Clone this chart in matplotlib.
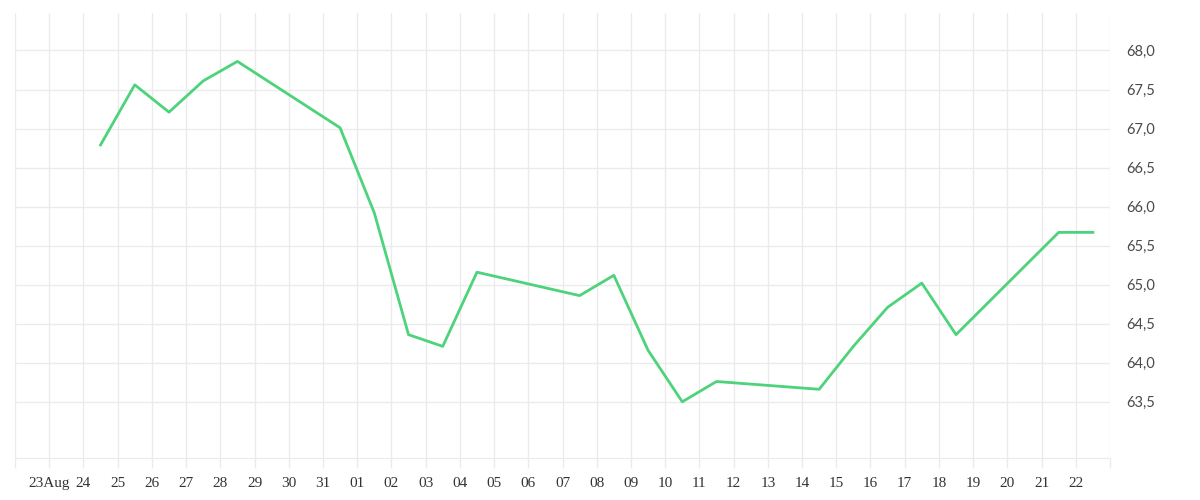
import matplotlib
matplotlib.use("Agg")
import matplotlib.pyplot as plt
import pandas as pd

# readings (taken at midday)
dates = ['2023-08-24 12:00', '2023-08-25 12:00', '2023-08-26 12:00', '2023-08-27 12:00',
         '2023-08-28 12:00', '2023-08-31 12:00', '2023-09-01 12:00', '2023-09-02 12:00',
         '2023-09-03 12:00', '2023-09-04 12:00', '2023-09-07 12:00', '2023-09-08 12:00',
         '2023-09-09 12:00', '2023-09-10 12:00', '2023-09-11 12:00', '2023-09-14 12:00',
         '2023-09-15 12:00', '2023-09-16 12:00', '2023-09-17 12:00', '2023-09-18 12:00',
         '2023-09-21 12:00', '2023-09-22 12:00']
values = [66.79, 67.56, 67.21, 67.61, 67.86, 67.01, 65.92, 64.36, 64.21, 65.16, 64.86,
          65.12, 64.16, 63.50, 63.76, 63.66, 64.21, 64.71, 65.02, 64.36, 65.67, 65.67]

x_start = '2023-08-22'
x_end = '2023-09-23'
y_ticks = [63.5, 64.0, 64.5, 65.0, 65.5, 66.0, 66.5, 67.0, 67.5, 68.0]

x = pd.to_datetime(dates)
day_ticks = pd.date_range(x_start, x_end, freq='D')
day_labels = []
for i, d in enumerate(day_ticks):
    if i == 0 or i == len(day_ticks) - 1:
        day_labels.append('')
    elif i == 1:
        day_labels.append(d.strftime('%d%b'))
    else:
        day_labels.append(d.strftime('%d'))

grid_col = '#ebebeb'

fig = plt.figure(figsize=(12, 5), dpi=100)
ax = fig.add_axes([0.0125, 0.084, 0.9125, 0.89])

ax.plot(x, values, color='#4cd37b', linewidth=2.0)

ax.set_xlim(pd.Timestamp(x_start), pd.Timestamp(x_end))
ax.set_ylim(62.78, 68.48)

ax.yaxis.tick_right()
ax.set_xticks(day_ticks)
ax.set_xticklabels(day_labels, family='Liberation Serif', fontsize=11)
ax.set_yticks(y_ticks)
ax.set_yticklabels([f'{v:.1f}'.replace('.', ',') for v in y_ticks],
                   family='Lato', fontsize=10.5)

ax.tick_params(axis='y', length=0, pad=12, labelcolor='#4a4a4a')
ax.tick_params(axis='x', length=7.5, width=1, color=grid_col, pad=6, labelcolor='#333333')

ax.grid(True, color=grid_col, linewidth=1)
ax.set_axisbelow(True)
for s in ['top', 'right', 'left']:
    ax.spines[s].set_visible(False)
ax.spines['bottom'].set_color(grid_col)

fig.savefig('out.png', dpi=100)
